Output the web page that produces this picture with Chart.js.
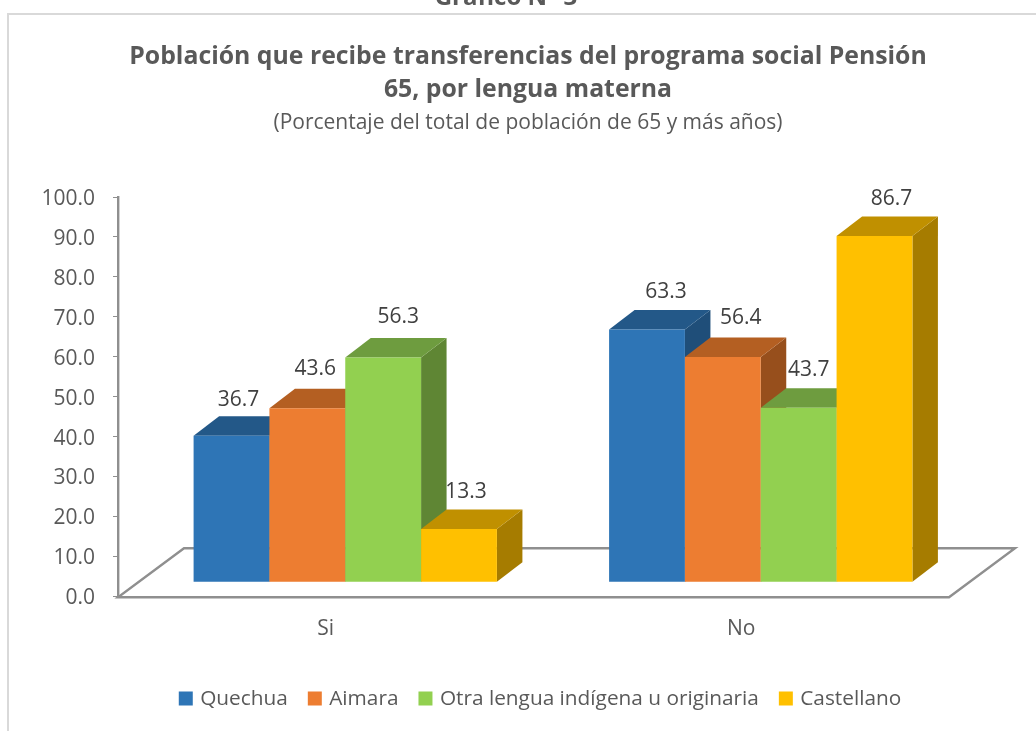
<!DOCTYPE html>
<html lang="es">
<head>
<meta charset="utf-8">
<title>Gráfico N° 3</title>
<script src="https://cdn.jsdelivr.net/npm/chart.js@4"></script>
<style>html,body{margin:0;padding:0;background:#fff;overflow:hidden}canvas{display:block}</style>
</head>
<body>
<canvas id="c" width="1036" height="731"></canvas>
<script>
const categories = ["Si", "No"];
const seriesNames = ["Quechua", "Aimara", "Otra lengua indígena u originaria", "Castellano"];
const quechua = [36.7, 63.3];
const aimara = [43.6, 56.4];
const otra = [56.3, 43.7];
const castellano = [13.3, 86.7];
const heading = "Gráfico N° 3";
const titleLines = ["Población que recibe transferencias del programa social Pensión", "65, por lengua materna"];
const subtitleText = "(Porcentaje del total de población de 65 y más años)";

const FONT = "'Open Sans'";
const frontColors = ["#2E75B6", "#ED7D31", "#92D050", "#FFC000"];
const topColors = ["#235888", "#B45F22", "#6E9C3F", "#C09000"];
const sideColors = ["#1F4E79", "#974F1C", "#5F8634", "#A67C00"];
const labelNudgeX = [[7, 19], [8, 18], [15, 10], [7, 17]];
const labelLift = [[36, 37], [39, 39], [40, 38], [37, 37]];

const plane = {dx: 19.5, dy: -14};   // front wall of the bars relative to the axis plane
const depth = {dx: 25.5, dy: -19.5}; // bar depth
const floor = {dx: 66, dy: -49};     // floor depth

function poly(ctx, pts, fill) {
  ctx.beginPath();
  pts.forEach((p, i) => i ? ctx.lineTo(p[0], p[1]) : ctx.moveTo(p[0], p[1]));
  ctx.closePath();
  ctx.fillStyle = fill;
  ctx.fill();
}

const threeD = {
  id: "threeD",
  beforeDraw(chart) {
    const ctx = chart.ctx;
    ctx.save();
    ctx.strokeStyle = "#D9D9D9";
    ctx.lineWidth = 2;
    ctx.beginPath();
    ctx.moveTo(1036, 14);
    ctx.lineTo(8, 14);
    ctx.lineTo(8, 731);
    ctx.stroke();
    ctx.fillStyle = "#595959";
    ctx.font = "bold 24px " + FONT;
    ctx.textAlign = "center";
    ctx.textBaseline = "alphabetic";
    ctx.fillText(heading, 506, 5);
    ctx.restore();
  },
  beforeDatasetsDraw(chart) {
    const ctx = chart.ctx, xs = chart.scales.x, ys = chart.scales.y;
    const y0 = ys.getPixelForValue(0) + 1;
    ctx.save();
    ctx.strokeStyle = "#8F8F8F";
    ctx.lineWidth = 2.4;
    ctx.lineJoin = "miter";
    ctx.beginPath();
    ctx.moveTo(xs.left, y0);
    ctx.lineTo(xs.right, y0);
    ctx.lineTo(xs.right + floor.dx, y0 + floor.dy);
    ctx.lineTo(xs.left + floor.dx, y0 + floor.dy);
    ctx.closePath();
    ctx.stroke();

    ctx.translate(plane.dx, plane.dy);
    chart.data.datasets.forEach((ds, i) => {
      const meta = chart.getDatasetMeta(i);
      meta.data.forEach(el => {
        const l = el.x - el.width / 2, r = el.x + el.width / 2, t = el.y, b = el.base;
        poly(ctx, [[r, t], [r + depth.dx, t + depth.dy], [r + depth.dx, b + depth.dy], [r, b]], sideColors[i]);
        poly(ctx, [[l, t], [l + depth.dx, t + depth.dy], [r + depth.dx, t + depth.dy], [r, t]], topColors[i]);
      });
      meta.controller.draw();
    });
    ctx.restore();
    return false;
  },
  afterDraw(chart) {
    const ctx = chart.ctx;
    ctx.save();
    ctx.fillStyle = "#404040";
    ctx.font = "21px " + FONT;
    ctx.textAlign = "center";
    ctx.textBaseline = "middle";
    chart.data.datasets.forEach((ds, i) => {
      chart.getDatasetMeta(i).data.forEach((el, j) => {
        ctx.fillText(ds.data[j].toFixed(1), el.x + plane.dx + labelNudgeX[i][j], el.y + plane.dy - labelLift[i][j]);
      });
    });
    ctx.restore();
  },
  afterLayout(chart) {
    chart.boxes.forEach(b => {
      if (b === chart.legend) { b.left += 57; b.right += 57; }
      else if (b.position === "top") { b.left += 43.5; b.right += 43.5; }
    });
  }
};

new Chart(document.getElementById("c"), {
  type: "bar",
  data: {
    labels: categories,
    datasets: [quechua, aimara, otra, castellano].map((data, i) => ({
      label: seriesNames[i],
      data,
      backgroundColor: frontColors[i],
      borderWidth: 0,
      categoryPercentage: 0.73,
      barPercentage: 1
    }))
  },
  options: {
    responsive: false,
    animation: false,
    layout: {padding: {left: 20, right: 87, top: 0, bottom: 12}},
    plugins: {
      tooltip: {enabled: false},
      title: {
        display: true,
        text: titleLines,
        color: "#595959",
        font: {family: FONT, size: 24.8, weight: "bold", lineHeight: 33 / 24.8},
        padding: {top: 40.5, bottom: 0}
      },
      subtitle: {
        display: true,
        text: subtitleText,
        color: "#595959",
        font: {family: FONT, size: 21, weight: "normal", lineHeight: 33 / 21},
        padding: {top: 0, bottom: 57.5}
      },
      legend: {
        display: true,
        position: "bottom",
        labels: {
          color: "#595959",
          font: {family: FONT, size: 20.8},
          boxWidth: 8,
          boxHeight: 8,
          padding: 23,
          generateLabels(chart) {
            return Chart.defaults.plugins.legend.labels.generateLabels(chart).map(item => ({
              ...item,
              strokeStyle: item.fillStyle,
              lineWidth: 6
            }));
          }
        }
      }
    },
    scales: {
      x: {
        grid: {display: false},
        border: {display: false},
        ticks: {color: "#595959", font: {family: FONT, size: 21}, padding: 12},
        afterFit(s) { s.height = 69; }
      },
      y: {
        min: 0,
        max: 100,
        grid: {drawOnChartArea: false, drawTicks: true, tickLength: 5, color: "#8F8F8F", lineWidth: 1},
        border: {display: true, color: "#8F8F8F", width: 2.4},
        ticks: {
          stepSize: 10,
          color: "#595959",
          font: {family: FONT, size: 21},
          padding: 18,
          labelOffset: 2,
          callback: v => v.toFixed(1)
        },
        afterFit(s) { s.width = 98; }
      }
    }
  },
  plugins: [threeD]
});
</script>
</body>
</html>
